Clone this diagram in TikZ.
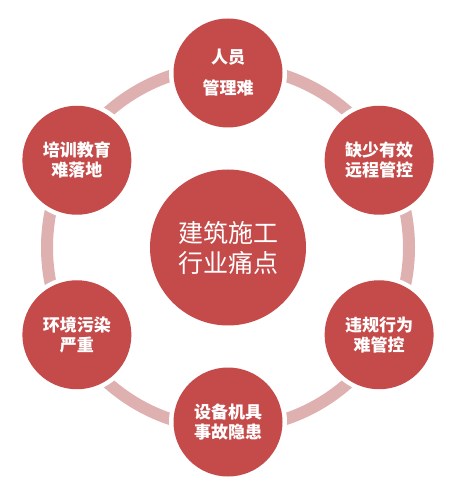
\documentclass[tikz,border=0pt]{standalone}
\usepackage{fontspec}
\newfontfamily\cjk{Noto Sans CJK SC}
\usepackage{tikz}
\usetikzlibrary{positioning}
\definecolor{painred}{RGB}{197,74,74}
\definecolor{ringpink}{RGB}{223,176,176}
\tikzstyle{ring}=[%
      draw=ringpink, line width=12pt, fill=none
]
\tikzstyle{pain}=[%
      circle, fill=painred, minimum size=109pt, inner sep=0pt,
      preaction={draw=white, line width=9pt},
      text=white, align=center, font=\cjk\bfseries\fontsize{17}{20}\selectfont
]
\tikzstyle{core}=[%
      circle, fill=painred, minimum size=156pt, inner sep=0pt,
      preaction={draw=white, line width=9pt},
      text=white, align=center, font=\cjk\fontsize{25}{30}\selectfont
]

\begin{document}
\begin{tikzpicture}[x=1pt,y=1pt]
    \useasboundingbox (-228,-241.5) rectangle (222,247.5);
    \draw[ring] (0,0) circle (181);

    \node[core]  (C)  at (0,0)          {建筑施工\\行业痛点};
    \node[pain]  (P1) at (90:174.5)     {人员\\[11pt]管理难};
    \node[pain]  (P2) at (30:174.5)     {缺少有效\\远程管控};
    \node[pain]  (P3) at (-30:174.5)    {违规行为\\难管控};
    \node[pain]  (P4) at (-90:174.5)    {设备机具\\事故隐患};
    \node[pain]  (P5) at (210:174.5)    {环境污染\\严重};
    \node[pain]  (P6) at (150:174.5)    {培训教育\\难落地};
\end{tikzpicture}
\end{document}
